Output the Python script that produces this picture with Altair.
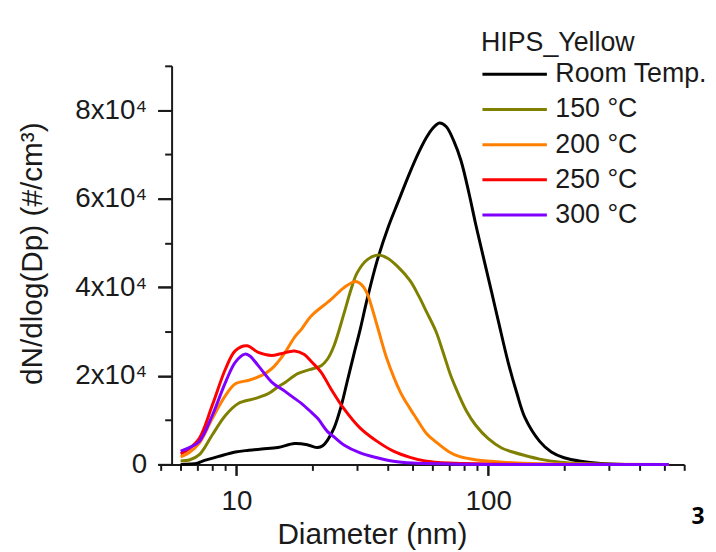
import altair as alt
import pandas as pd

# ---------------- data (values in units of 1e4 #/cm3) ----------------
series_names = ["Room Temp.", "150 °C", "200 °C", "250 °C", "300 °C"]
series_colors = ["#000000", "#808000", "#ff8000", "#ff0000", "#8000ff"]

room_d = [6, 7, 7.3, 8.5, 9.9, 11.2, 12.6, 14.6, 17, 19.2, 21, 22, 23, 24.4, 26, 27.6, 29.3, 31, 33,
          36.2, 40, 44, 48.9, 53, 56.8, 60, 64, 68, 73, 78, 84, 89, 95, 103, 110, 120, 130, 140,
          160, 178, 200, 233, 280, 350, 520]
room_v = [0, 0.03, 0.07, 0.18, 0.28, 0.32, 0.35, 0.38, 0.47, 0.44, 0.38, 0.42, 0.55, 0.82, 1.3, 1.9,
          2.5, 3.05, 3.72, 4.6, 5.35, 5.95, 6.6, 7.05, 7.38, 7.58, 7.71, 7.63, 7.3, 6.85, 6.1, 5.44,
          4.75, 3.9, 3.2, 2.3, 1.6, 1.05, 0.52, 0.28, 0.15, 0.07, 0.02, 0, 0]

c150_d = [6, 6.5, 7.12, 8.02, 9.05, 10.2, 11.9, 13.4, 14.6, 15.6, 17.5, 19.5, 21.7, 23, 24.4, 26.7,
          28.5, 30.1, 33, 36.7, 40, 44, 48.9, 53, 56.8, 62, 66, 71, 76.5, 82, 89, 100, 113, 125, 140,
          160, 194, 230, 300, 520]
c150_v = [0.08, 0.1, 0.22, 0.67, 1.11, 1.38, 1.49, 1.6, 1.75, 1.85, 2.05, 2.14, 2.23, 2.38, 2.68, 3.4,
          3.95, 4.32, 4.62, 4.73, 4.65, 4.45, 4.15, 3.8, 3.45, 3.0, 2.55, 2.0, 1.56, 1.2, 0.89, 0.58,
          0.37, 0.28, 0.2, 0.12, 0.05, 0.02, 0, 0]

c200_d = [6, 6.5, 7.12, 8.02, 9.05, 9.9, 11.2, 12.6, 13.8, 14.6, 15.6, 17, 18.1, 19.8, 23.7, 26.7,
          29.7, 31.5, 33, 36.2, 39.6, 44.7, 48.9, 51.8, 56.8, 62.2, 70, 76.5, 90, 103, 130, 180, 520]
c200_v = [0.17, 0.27, 0.48, 1.04, 1.56, 1.82, 1.9, 2.01, 2.16, 2.31, 2.53, 2.87, 3.05, 3.35, 3.72, 3.99,
          4.13, 4.05, 3.87, 3.13, 2.38, 1.64, 1.26, 1.04, 0.7, 0.5, 0.28, 0.18, 0.1, 0.07, 0.03, 0.01, 0]

c250_d = [6, 6.5, 7.12, 8.02, 9.05, 9.9, 11, 12.2, 13.8, 15, 17, 18.6, 20, 21.7, 23.7, 26.7, 31, 36.2,
          42, 48.9, 56, 70, 100, 150, 520]
c250_v = [0.24, 0.36, 0.59, 1.34, 2.16, 2.57, 2.68, 2.53, 2.46, 2.5, 2.56, 2.48, 2.3, 2.08, 1.71, 1.26,
          0.82, 0.52, 0.3, 0.16, 0.08, 0.03, 0.01, 0, 0]

c300_d = [6, 6.5, 7.12, 8.02, 9.05, 9.9, 10.8, 11.3, 12.2, 13.8, 15.6, 17, 18.1, 19.8, 21, 23, 24.4,
          26.7, 31, 36.2, 42, 50, 70, 100, 520]
c300_v = [0.3, 0.38, 0.52, 1.11, 1.86, 2.31, 2.49, 2.45, 2.23, 1.86, 1.65, 1.49, 1.38, 1.18, 1.04, 0.74,
          0.62, 0.44, 0.26, 0.15, 0.07, 0.03, 0.01, 0, 0]

x_major_ticks = [10, 100]
x_minor_ticks = [5, 6, 7, 8, 9, 20, 30, 40, 50, 60, 70, 80, 90, 200, 300, 400, 500, 600]
y_major_ticks = [0, 20000, 40000, 60000, 80000]
y_minor_ticks = [10000, 30000, 50000, 70000, 90000]

legend_title = "HIPS_Yellow"
x_title = "Diameter (nm)"
y_title = "dN/dlog(Dp) (#/cm³)"
panel_label = "3"

# ---------------- build table ----------------
all_d = [room_d, c150_d, c200_d, c250_d, c300_d]
all_v = [room_v, c150_v, c200_v, c250_v, c300_v]
rows = []
for k, (name, ds, vs) in enumerate(zip(series_names, all_d, all_v)):
    for i, (d, v) in enumerate(zip(ds, vs)):
        rows.append({"series": name, "order": k, "idx": i, "D": d, "N": v * 1e4})
df = pd.DataFrame(rows)

FONT = "Liberation Sans"
INK = "#1a1a1a"

common_axis = dict(
    grid=False,
    domainColor=INK,
    domainWidth=2,
    tickColor=INK,
    tickWidth=2,
    ticks=True,
    labelFont=FONT,
    labelColor=INK,
    labelFontSize=28,
    titleFont=FONT,
    titleColor=INK,
    titleFontWeight="normal",
    titleFontSize=30,
    labelOverlap=False,
)

x_scale = alt.Scale(type="log", domain=[5, 600], nice=False)
y_scale = alt.Scale(domain=[0, 90000], nice=False, zero=True)

x_axis = alt.Axis(
    orient="bottom",
    values=x_major_ticks,
    format="d",
    tickSize=11,
    labelPadding=12,
    title=x_title,
    titleX=213,
    titleY=80,
    titleAlign="center",
    titleBaseline="alphabetic",
    **common_axis,
)

y_axis = alt.Axis(
    orient="left",
    values=y_major_ticks,
    labelExpr="datum.value == 0 ? '0' : format(datum.value / 10000, 'd') + 'x10⁴'",
    tickSize=14,
    labelPadding=11,
    offset=-11,
    title=y_title,
    titleAngle=270,
    titleX=-140,
    titleY=189,
    titleAlign="center",
    titleBaseline="middle",
    **common_axis,
)


def tick_axis(orient, values, size, offset=0):
    return alt.Axis(
        orient=orient, values=values, tickSize=size, tickWidth=2, tickColor=INK, offset=offset,
        labels=False, domain=False, grid=False, title=None,
    )


major_marks = alt.Chart(df).mark_line(strokeOpacity=0, strokeWidth=0).encode(
    x=alt.X("D:Q", scale=x_scale, axis=tick_axis("bottom", x_major_ticks, 11)),
    y=alt.Y("N:Q", scale=y_scale, axis=tick_axis("left", y_major_ticks, 14, -11)),
    detail="series:N",
)

minor_marks = alt.Chart(df).mark_line(strokeOpacity=0, strokeWidth=0).encode(
    x=alt.X("D:Q", scale=x_scale, axis=tick_axis("bottom", x_minor_ticks, 6)),
    y=alt.Y("N:Q", scale=y_scale, axis=tick_axis("left", y_minor_ticks, 7, -11)),
    detail="series:N",
)

lines = alt.Chart(df).mark_line(strokeWidth=3, interpolate="catmull-rom").encode(
    x=alt.X("D:Q", scale=x_scale, axis=x_axis),
    y=alt.Y("N:Q", scale=y_scale, axis=y_axis),
    color=alt.Color(
        "series:N",
        scale=alt.Scale(domain=series_names, range=series_colors),
        legend=alt.Legend(
            orient="none",
            legendX=323,
            legendY=-36,
            title=legend_title,
            titleFontSize=27,
            titleFont=FONT,
            titleFontWeight="normal",
            titleColor=INK,
            titlePadding=4,
            labelFont=FONT,
            labelFontSize=27,
            labelColor=INK,
            labelOffset=7,
            symbolType="stroke",
            symbolSize=4225,
            symbolStrokeWidth=3,
            clipHeight=27,
            rowPadding=7.5,
            padding=0,
        ),
    ),
    detail="series:N",
    order="idx:Q",
)

label = alt.Chart(alt.Data(values=[{"t": panel_label}])).mark_text(
    font="Open Sans", fontWeight="bold", fontSize=23, align="center", baseline="middle", color="#000"
).encode(text="t:N", x=alt.value(542), y=alt.value(455))

chart = alt.layer(major_marks, minor_marks, lines, label).resolve_axis(
    x="independent", y="independent"
).properties(
    width=528,
    height=402,
    background="white",
    autosize=alt.AutoSizeParams(type="none"),
    padding={"left": 154, "top": 56, "right": 24, "bottom": 84},
).configure_view(stroke=None)

chart.save("out.html", embed_options={"renderer": "svg", "actions": False})
